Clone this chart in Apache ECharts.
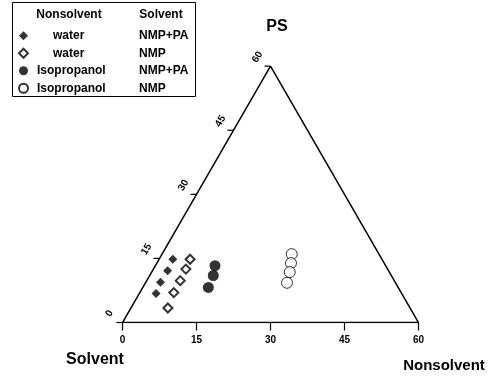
<!DOCTYPE html>
<html><head><meta charset="utf-8">
<script src="https://cdn.jsdelivr.net/npm/echarts@6/dist/echarts.min.js"></script>
<style>html,body{margin:0;padding:0;background:#fff}#c{width:498px;height:377px}</style>
</head><body><div id="c"></div>
<script>
// ---- data ----
const axisTicks = [0, 15, 30, 45, 60];
const axisTickLabels = ['0', '15', '30', '45', '60'];
const nonsolvents = ['water', 'water', 'Isopropanol', 'Isopropanol'];
const solvents = ['NMP+PA', 'NMP', 'NMP+PA', 'NMP'];
// Nonsolvent (%) and PS (%) per series
const waterPA_N = [2.8, 3.1, 3.0, 3.4];
const waterPA_PS = [14.8, 12.1, 9.4, 6.8];
const waterNMP_N = [6.3, 6.6, 6.8, 6.9, 7.5];
const waterNMP_PS = [14.8, 12.5, 9.8, 7.0, 3.4];
const ipaPA_N = [12.1, 12.9, 13.3];
const ipaPA_PS = [13.3, 11.0, 8.2];
const ipaNMP_N = [26.3, 27.2, 28.0, 28.7];
const ipaNMP_PS = [16.0, 13.9, 11.8, 9.3];

const AXMAX = 60;
const H = Math.sqrt(3) / 2;
function toXY(n, p) { return [n + p / 2, p * H]; }
function pts(N, P) { return N.map((n, i) => toXY(n, P[i])); }

const names = nonsolvents.map((ns, i) => ns + '|' + solvents[i]);
const FONT = '"Liberation Sans", Arial, sans-serif';

const chart = echarts.init(document.getElementById('c'));
const seriesStyles = [
  { symbol: 'diamond', size: 9, itemStyle: { color: '#000' } },
  { symbol: 'diamond', size: 9, itemStyle: { color: '#fff', borderColor: '#000', borderWidth: 2 } },
  { symbol: 'circle', size: 11, itemStyle: { color: '#000' } },
  { symbol: 'circle', size: 11, itemStyle: { color: '#fff', borderColor: '#000', borderWidth: 1 } }
];
const seriesData = [pts(waterPA_N, waterPA_PS), pts(waterNMP_N, waterNMP_PS), pts(ipaPA_N, ipaPA_PS), pts(ipaNMP_N, ipaNMP_PS)];

const triangle = [toXY(0, 0), toXY(AXMAX, 0), toXY(0, AXMAX), toXY(0, 0)];

const option = {
  animation: false,
  backgroundColor: '#fff',
  grid: { left: 122.5, top: 322.5 - 296 * H, width: 296, height: 296 * H },
  xAxis: { type: 'value', min: 0, max: AXMAX, show: false },
  yAxis: { type: 'value', min: 0, max: AXMAX * H, show: false },
  legend: {
    orient: 'vertical', left: 13, top: 22, itemWidth: 9, itemHeight: 9, itemGap: 0,
    data: names, selectedMode: false,
    formatter: function (name) {
      const parts = name.split('|');
      const a = parts[0] === 'water' ? '{w|' + parts[0] + '}' : '{a|' + parts[0] + '}';
      return a + '{b|' + parts[1] + '}';
    },
    textStyle: {
      color: '#000', fontWeight: 'bold', fontSize: 12, fontFamily: FONT, lineHeight: 17.5,
      rich: {
        a: { width: 102, padding: [0, 0, 0, 4], fontWeight: 'bold', fontSize: 12, fontFamily: FONT, color: '#000', lineHeight: 17.5 },
        w: { width: 86, padding: [0, 0, 0, 20], fontWeight: 'bold', fontSize: 12, fontFamily: FONT, color: '#000', lineHeight: 17.5 },
        b: { fontWeight: 'bold', fontSize: 12, fontFamily: FONT, color: '#000', lineHeight: 17.5 }
      }
    }
  },
  graphic: [
    { type: 'rect', shape: { x: 12.5, y: 2.5, width: 183, height: 94 }, style: { fill: 'none', stroke: '#000', lineWidth: 1 } },
    { type: 'text', x: 69, y: 15, style: { text: 'Nonsolvent', align: 'center', verticalAlign: 'middle', font: 'bold 12px ' + FONT, fill: '#000' } },
    { type: 'text', x: 161, y: 15, style: { text: 'Solvent', align: 'center', verticalAlign: 'middle', font: 'bold 12px ' + FONT, fill: '#000' } },
    { type: 'text', x: 277, y: 27, style: { text: 'PS', align: 'center', verticalAlign: 'middle', font: 'bold 16px ' + FONT, fill: '#000' } },
    { type: 'text', x: 95, y: 360, style: { text: 'Solvent', align: 'center', verticalAlign: 'middle', font: 'bold 16px ' + FONT, fill: '#000' } },
    { type: 'text', x: 444, y: 366, style: { text: 'Nonsolvent', align: 'center', verticalAlign: 'middle', font: 'bold 15px ' + FONT, fill: '#000' } }
  ],
  series: [
    {
      type: 'line', data: triangle, symbol: 'none', silent: true,
      lineStyle: { color: '#000', width: 1.5 }, z: 1
    },
    {
      type: 'custom', silent: true, data: axisTicks.map((v, i) => [v, i]),
      renderItem: function (params, api) {
        const v = api.value(0), i = api.value(1);
        const p = api.coord(toXY(v, 0));
        return { type: 'group', children: [
          { type: 'line', shape: { x1: p[0], y1: p[1], x2: p[0], y2: p[1] + 8 }, style: { stroke: '#000', lineWidth: 1.2 } },
          { type: 'text', x: p[0], y: p[1] + 18, style: { text: axisTickLabels[i], align: 'center', verticalAlign: 'middle', font: 'bold 10px ' + FONT, fill: '#000' } }
        ] };
      }
    },
    {
      type: 'custom', silent: true, data: axisTicks.map((v, i) => [v, i]),
      renderItem: function (params, api) {
        const v = api.value(0), i = api.value(1);
        const p = api.coord(toXY(0, v));
        return { type: 'group', children: [
          { type: 'line', shape: { x1: p[0], y1: p[1], x2: p[0] - 6, y2: p[1] }, style: { stroke: '#000', lineWidth: 1.2 } },
          { type: 'text', x: p[0] - 13, y: p[1] - 9, rotation: Math.PI / 3, style: { text: axisTickLabels[i], align: 'center', verticalAlign: 'middle', font: 'bold 10px ' + FONT, fill: '#000' } }
        ] };
      }
    }
  ].concat(names.map((n, k) => ({
    type: 'scatter', name: n, data: seriesData[k], symbol: seriesStyles[k].symbol,
    symbolSize: seriesStyles[k].size, itemStyle: seriesStyles[k].itemStyle, z: 5
  })))
};
chart.setOption(option);
</script></body></html>
